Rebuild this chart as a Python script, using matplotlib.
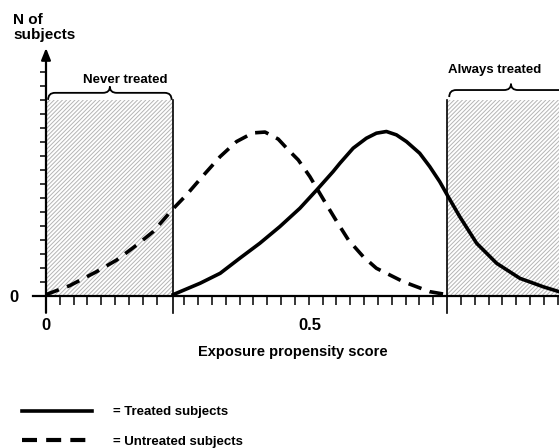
import matplotlib
matplotlib.use("Agg")
import matplotlib.pyplot as plt
from matplotlib.patches import Rectangle, PathPatch
from matplotlib.path import Path
from matplotlib.lines import Line2D
import numpy as np

plt.rcParams['font.family'] = ['Liberation Sans', 'DejaVu Sans']
plt.rcParams['font.weight'] = 'bold'
plt.rcParams['hatch.linewidth'] = 0.7

# curves, y in units of the small ticks on the N axis
untreated_x = [0.0, 0.045, 0.096, 0.134, 0.172, 0.203, 0.240, 0.266, 0.298, 0.330, 0.361,
               0.380, 0.392, 0.415, 0.440, 0.459, 0.478, 0.500, 0.513, 0.528, 0.551, 0.573,
               0.601, 0.626, 0.677, 0.727, 0.756]
untreated_y = [0.1, 0.74, 1.74, 2.57, 3.64, 4.59, 6.19, 7.21, 8.6, 9.95, 11.02,
               11.4, 11.64, 11.7, 11.2, 10.43, 9.71, 8.52, 7.69, 6.74, 5.31, 4.0,
               2.81, 1.98, 1.02, 0.31, 0.12]
treated_x = [0.241, 0.292, 0.330, 0.367, 0.405, 0.443, 0.481, 0.513, 0.544, 0.557, 0.582,
             0.607, 0.626, 0.645, 0.664, 0.683, 0.708, 0.727, 0.746, 0.762, 0.784, 0.816,
             0.854, 0.898, 0.942, 0.972]
treated_y = [0.1, 0.91, 1.62, 2.69, 3.76, 4.95, 6.26, 7.57, 8.88, 9.48, 10.55,
             11.26, 11.62, 11.74, 11.5, 11.02, 10.19, 9.24, 8.16, 7.09, 5.66, 3.76,
             2.33, 1.26, 0.66, 0.31]

region_start = [0.0, 0.76]
region_end = [0.24, 1.0]
region_names = ["Never treated", "Always treated"]
region_height = 14

x_tick_pos = [0, 0.5]
x_tick_labels = ["0", "0.5"]
y_title = "N of\nsubjects"
x_title = "Exposure propensity score"
legend_labels = ["= Treated subjects", "= Untreated subjects"]

# layout
W, H = 559, 448
xmax, ymax = 0.972, 17.7
step = 0.76 / 29
name_x = [0.15, 0.85]
name_y = [15.2, 15.9]
brace_lift = [0.0, 0.2]


def brace(ax, x0, x1, yb, yh, yt, rx=0.013):
    xm = (x0 + x1) / 2
    verts = [(x0, yb), (x0, yh), (x0 + rx, yh),
             (xm - rx, yh),
             (xm, yh), (xm, yt),
             (xm, yh), (xm + rx, yh),
             (x1 - rx, yh),
             (x1, yh), (x1, yb)]
    codes = [Path.MOVETO, Path.CURVE3, Path.CURVE3,
             Path.LINETO,
             Path.CURVE3, Path.CURVE3,
             Path.CURVE3, Path.CURVE3,
             Path.LINETO,
             Path.CURVE3, Path.CURVE3]
    ax.add_patch(PathPatch(Path(verts, codes), fill=False, lw=1.3, ec='k',
                           clip_on=False, zorder=4))


fig = plt.figure(figsize=(W / 100, H / 100), dpi=100)
ax = fig.add_axes([46 / W, (H - 296) / H, (W - 46) / W, 248 / H])
ax.set_xlim(0, xmax)
ax.set_ylim(0, ymax)
for s in ax.spines.values():
    s.set_visible(False)

# hatched regions
for x0, x1, name, nx, ny, lift in zip(region_start, region_end, region_names,
                                      name_x, name_y, brace_lift):
    ax.add_patch(Rectangle((x0, 0), x1 - x0, region_height, facecolor='white',
                           edgecolor='#b4b4b4', hatch='////////', lw=0, zorder=1))
    for b in (x0, x1):
        if 0 < b < xmax:
            ax.plot([b, b], [-1.2, region_height], color='k', lw=1.2,
                    clip_on=False, zorder=3)
    brace(ax, x0 + 0.004, min(x1, 1.0) - 0.002, region_height + lift,
          region_height + lift + 0.5, region_height + lift + 0.95)
    ax.text(nx, ny, name, ha='center', va='baseline', fontsize=9.5)

# curves
ax.plot(treated_x, treated_y, color='k', lw=2.6, solid_joinstyle='round',
        clip_on=False, zorder=5)
ax.plot(untreated_x, untreated_y, color='k', lw=2.6, dashes=(3.8, 2.4),
        clip_on=False, zorder=5)

# axes
ax.plot([-0.025, xmax], [0, 0], color='k', lw=1.6, clip_on=False, zorder=6)
ax.annotate('', xy=(0, ymax), xytext=(0, -1.2), annotation_clip=False,
            arrowprops=dict(arrowstyle='-|>,head_length=0.5,head_width=0.2',
                            color='k', lw=1.6, mutation_scale=14,
                            shrinkA=0, shrinkB=0))

minor = [t for t in np.arange(step, xmax, step)
         if all(abs(t - b) > 0.01 for b in region_start + region_end)]
ax.set_xticks(x_tick_pos, x_tick_labels, fontsize=12)
ax.set_xticks(minor, minor=True)
ax.tick_params(axis='x', which='major', length=0, pad=16)
ax.tick_params(axis='x', which='minor', length=6.5, width=1.1)
ax.set_yticks([0], ['0'], fontsize=12)
ax.set_yticks(np.arange(1, 17), minor=True)
ax.tick_params(axis='y', which='major', length=0, pad=20)
ax.tick_params(axis='y', which='minor', length=4.3, width=1.1)

ax.text((293 - 46) / 528, -4.3, x_title, ha='center', va='baseline', fontsize=10.5)
fig.text(13 / W, 1 - 13 / H, y_title, ha='left', va='top', fontsize=11,
         linespacing=1.05)

handles = [Line2D([], [], color='k', lw=2.6),
           Line2D([], [], color='k', lw=3, dashes=(3.6, 2.2))]
fig.legend(handles, legend_labels, loc='upper left', bbox_to_anchor=(22 / W, 1 - 406 / H),
           frameon=False, fontsize=9.5, handlelength=5.3, handletextpad=1.6,
           labelspacing=1.3, borderpad=0, borderaxespad=0)

fig.savefig('out.png', dpi=100)
